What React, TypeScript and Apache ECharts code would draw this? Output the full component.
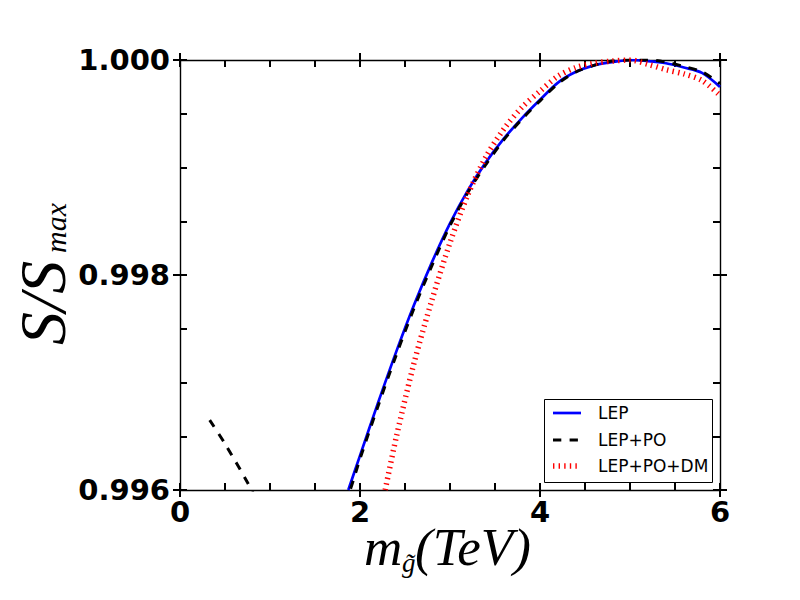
import React, { useEffect, useRef } from "react";
import * as echarts from "echarts";

// ---- data ----
const lepX = [1.87, 2.0, 2.2, 2.4, 2.6, 2.8, 3.0, 3.2, 3.4, 3.6, 3.8, 4.0, 4.2, 4.4, 4.6, 4.8, 5.0, 5.2, 5.4, 5.6, 5.8, 6.0];
const lepY = [0.996, 0.99632, 0.99681, 0.99728, 0.99772, 0.99812, 0.99848, 0.99879, 0.99905, 0.99927, 0.99946, 0.99963, 0.99979, 0.99989, 0.99995, 0.99998, 1.0, 0.99999, 0.99997, 0.99993, 0.99988, 0.99975];

const lepPoX = [0.33, 0.5, 0.75, 1.0, 1.3, 1.6, 1.75, 1.89, 2.0, 2.2, 2.4, 2.6, 2.8, 3.0, 3.2, 3.4, 3.6, 3.8, 4.0, 4.2, 4.4, 4.6, 4.8, 5.0, 5.2, 5.4, 5.6, 5.8, 6.0];
const lepPoY = [0.99665, 0.99643, 0.99607, 0.99568, 0.99535, 0.9954, 0.9957, 0.996, 0.99629, 0.99678, 0.99725, 0.99769, 0.99809, 0.99846, 0.99877, 0.99903, 0.99926, 0.99945, 0.99962, 0.99978, 0.99989, 0.99995, 0.99999, 1.0, 1.0, 0.99998, 0.99994, 0.99989, 0.99978];

const lepPoDmX = [2.28, 2.4, 2.6, 2.8, 3.0, 3.2, 3.4, 3.6, 3.8, 4.0, 4.2, 4.4, 4.6, 4.8, 5.0, 5.2, 5.4, 5.6, 5.8, 6.0];
const lepPoDmY = [0.996, 0.99648, 0.99718, 0.99777, 0.9983, 0.99875, 0.9991, 0.99936, 0.99956, 0.99971, 0.99985, 0.99993, 0.99997, 0.99999, 1.0, 0.99996, 0.99991, 0.99987, 0.99981, 0.99967];

const seriesNames = ["LEP", "LEP+PO", "LEP+PO+DM"];
const xTickLabels = ["0", "2", "4", "6"];

const X_MIN = 0, X_MAX = 6, X_INT = 2;
const Y_MIN = 0.996, Y_MAX = 1.0, Y_INT = 0.002;

const zip = (xs: number[], ys: number[]) => xs.map((x, i) => [x, ys[i]]);

export default function App() {
  const ref = useRef<HTMLDivElement>(null);
  useEffect(() => {
    if (!ref.current) return;
    const chart = echarts.init(ref.current, undefined, { renderer: "svg" });

    const lineC = "#000";
    const tickFont = { fontFamily: "DejaVu Sans", fontWeight: "bold" as const, fontSize: 29, color: "#000" };

    const baseX = (position: string, inside: boolean, labels: boolean, line: boolean) => ({
      type: "value",
      position,
      min: X_MIN,
      max: X_MAX,
      interval: X_INT,
      splitLine: { show: false },
      axisLine: { show: line, onZero: false, lineStyle: { color: lineC, width: 1.4 } },
      axisTick: { show: true, inside, length: 7, lineStyle: { color: lineC, width: 2 } },
      minorTick: { show: inside, splitNumber: 4, length: 7, lineStyle: { color: lineC, width: 2 } },
      axisLabel: labels
        ? { show: true, margin: 7, ...tickFont, formatter: (v: number) => xTickLabels[Math.round(v / X_INT)] ?? String(v) }
        : { show: false },
    });
    const baseY = (position: string, inside: boolean, labels: boolean, line: boolean) => ({
      type: "value",
      position,
      min: Y_MIN,
      max: Y_MAX,
      interval: Y_INT,
      splitLine: { show: false },
      axisLine: { show: line, onZero: false, lineStyle: { color: lineC, width: 1.4 } },
      axisTick: { show: true, inside, length: 7, lineStyle: { color: lineC, width: 2 } },
      minorTick: { show: inside, splitNumber: 4, length: 7, lineStyle: { color: lineC, width: 2 } },
      axisLabel: labels
        ? { show: true, margin: 10, ...tickFont, formatter: (v: number) => v.toFixed(3) }
        : { show: false },
    });

    const legendY = [413, 440, 466];
    const legendStyles = [
      { stroke: "#0000ff", lineWidth: 2.7 },
      { stroke: "#000000", lineWidth: 3, lineDash: [8.3, 8.3] },
      { stroke: "#ff0000", lineWidth: 5.5, lineDash: [1.4, 4.2] },
    ];

    const titleFont = { fill: "#000", fontFamily: "Liberation Serif", fontStyle: "italic", align: "left", verticalAlign: "middle" };

    const graphic: any[] = [
      {
        type: "rect",
        z: 100,
        shape: { x: 544.5, y: 399.5, width: 168, height: 83 },
        style: { fill: "#fff", stroke: "#000", lineWidth: 1 },
      },
      ...seriesNames.map((n, i) => ({
        type: "line",
        z: 101,
        shape: { x1: 553, y1: legendY[i], x2: 581, y2: legendY[i] },
        style: legendStyles[i],
      })),
      ...seriesNames.map((n, i) => ({
        type: "text",
        z: 101,
        x: 598,
        y: legendY[i],
        style: { text: n, fill: "#000", fontSize: 17, fontFamily: "DejaVu Sans", align: "left", verticalAlign: "middle" },
      })),
      // x axis title
      { type: "text", z: 101, x: 364, y: 547, style: { ...titleFont, text: "m", fontSize: 53 } },
      { type: "text", z: 101, x: 402, y: 563, style: { ...titleFont, text: "g\u0303", fontSize: 27 } },
      { type: "text", z: 101, x: 415, y: 547, style: { ...titleFont, text: "(TeV)", fontSize: 53 } },
      // y axis title
      { type: "text", z: 101, x: 42, y: 345, rotation: Math.PI / 2, style: { ...titleFont, text: "S/S", fontSize: 66 } },
      { type: "text", z: 101, x: 55, y: 253, rotation: Math.PI / 2, style: { ...titleFont, text: "max", fontSize: 30 } },
    ];

    chart.setOption({
      animation: false,
      backgroundColor: "#fff",
      grid: { left: 180, right: 80, top: 60, bottom: 110, containLabel: false },
      xAxis: [
        baseX("bottom", true, true, true),
        baseX("bottom", false, false, false),
        baseX("top", true, false, true),
        baseX("top", false, false, false),
      ],
      yAxis: [
        baseY("left", true, true, true),
        baseY("left", false, false, false),
        baseY("right", true, false, true),
        baseY("right", false, false, false),
      ],
      series: [
        {
          name: seriesNames[0], type: "line", xAxisIndex: 0, yAxisIndex: 0, smooth: 0.3, symbol: "none",
          data: zip(lepX, lepY), lineStyle: { color: "#0000ff", width: 2.7 }, z: 2,
        },
        {
          name: seriesNames[1], type: "line", xAxisIndex: 0, yAxisIndex: 0, smooth: 0.3, symbol: "none",
          data: zip(lepPoX, lepPoY), lineStyle: { color: "#000000", width: 3, type: [8.3, 8.3] }, z: 3,
        },
        {
          name: seriesNames[2], type: "line", xAxisIndex: 0, yAxisIndex: 0, smooth: 0.3, symbol: "none",
          data: zip(lepPoDmX, lepPoDmY), lineStyle: { color: "#ff0000", width: 5.5, type: [1.4, 4.2] }, z: 4,
        },
      ],
      graphic,
    });
    return () => chart.dispose();
  }, []);
  return <div ref={ref} style={{ position: "fixed", left: 0, top: 0, width: 800, height: 600 }} />;
}
